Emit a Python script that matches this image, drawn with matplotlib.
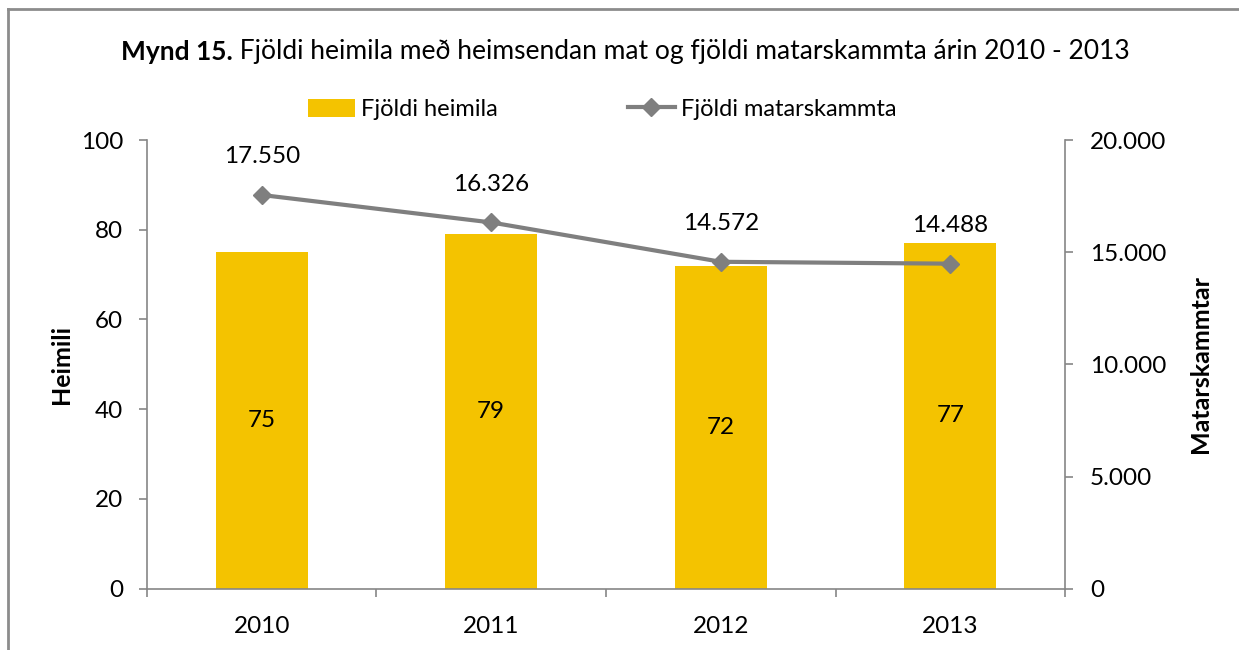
import numpy as np
import matplotlib
matplotlib.use("Agg")
import matplotlib.pyplot as plt
from matplotlib.lines import Line2D

years = ["2010", "2011", "2012", "2013"]
heimili = [75, 79, 72, 77]
skammtar = [17550, 16326, 14572, 14488]
skammtar_labels = ["17.550", "16.326", "14.572", "14.488"]

plt.rcParams["font.family"] = ["Lato", "DejaVu Sans"]

bar_color = "#F4C300"
line_color = "#7F7F7F"
axis_color = "#868686"
fs = 17.5

fig = plt.figure(figsize=(12.39, 6.5), dpi=100)
ax = fig.add_axes([0.1186, 0.0943, 0.7410, 0.6903])
ax2 = ax.twinx()

x = np.arange(len(years))
bars = ax.bar(x, heimili, width=0.4, color=bar_color, label="Fjöldi heimila", zorder=2)
ln, = ax2.plot(x, skammtar, color=line_color, lw=3, marker="D", markersize=9,
               label="Fjöldi matarskammta", zorder=3)

ax.set_xlim(-0.5, len(years) - 0.5)
ax.set_ylim(0, 100)
ax2.set_ylim(0, 20000)
ax.set_yticks(range(0, 101, 20))
ax2.set_yticks(range(0, 20001, 5000))
ax2.set_yticklabels(["0", "5.000", "10.000", "15.000", "20.000"])

ax.set_xticks(x)
ax.set_xticklabels(years)
ax.set_xticks(np.arange(-0.5, len(years)), minor=True)
ax.tick_params(axis="x", which="major", length=0, pad=20, labelsize=fs)
ax.tick_params(axis="x", which="minor", length=6, color=axis_color, width=1.2)
ax.tick_params(axis="y", length=6, color=axis_color, width=1.2, labelsize=fs, pad=11)
ax2.tick_params(axis="y", length=6, color=axis_color, width=1.2, labelsize=fs, pad=12)

for a in (ax, ax2):
    a.spines["top"].set_visible(False)
    for s in ("left", "right", "bottom"):
        a.spines[s].set_color(axis_color)
        a.spines[s].set_linewidth(1.2)
ax.spines["right"].set_visible(False)
ax2.spines["left"].set_visible(False)
ax2.spines["bottom"].set_visible(False)

ax.set_ylabel("Heimili", fontsize=18, fontweight="bold", labelpad=6)
ax2.set_ylabel("Matarskammtar", fontsize=18, fontweight="bold", labelpad=16)

for xi, h in zip(x, heimili):
    ax.text(xi, h / 2, str(h), ha="center", va="center", fontsize=fs)

for xi, v, lab in zip(x, skammtar, skammtar_labels):
    ax2.annotate(lab, (xi, v), xytext=(0, 38), textcoords="offset pixels",
                 ha="center", va="center", fontsize=fs)

# title: bold "Mynd 15." followed by the regular text
t1 = fig.text(121 / 1239, 1 - 52 / 650, "Mynd 15.", fontsize=19, fontweight="bold",
              ha="left", va="center")
fig.canvas.draw()
t2 = fig.text(0, 0, " Fjöldi heimila með heimsendan mat og fjöldi matarskammta árin 2010 - 2013",
              fontsize=19, ha="left", va="center")
bb = t1.get_window_extent().transformed(fig.transFigure.inverted())
t2.set_position((bb.x1, 1 - 52 / 650))

handles = [bars, Line2D([0], [0], color=line_color, lw=3, marker="D", markersize=9)]
fig.legend(handles, ["Fjöldi heimila", "Fjöldi matarskammta"], loc="center",
           bbox_to_anchor=(0.486, 0.832), ncol=2, frameon=False, fontsize=17,
           handlelength=2.0, handleheight=0.8, handletextpad=0.25, columnspacing=5.5)

fig.add_artist(Line2D([8 / 1239, 1], [1 - 9 / 650, 1 - 9 / 650], color="#8c8c8c", lw=2,
                      transform=fig.transFigure))
fig.add_artist(Line2D([8 / 1239, 8 / 1239], [0, 1 - 9 / 650], color="#8c8c8c", lw=2,
                      transform=fig.transFigure))

fig.savefig("out.png", dpi=100)
